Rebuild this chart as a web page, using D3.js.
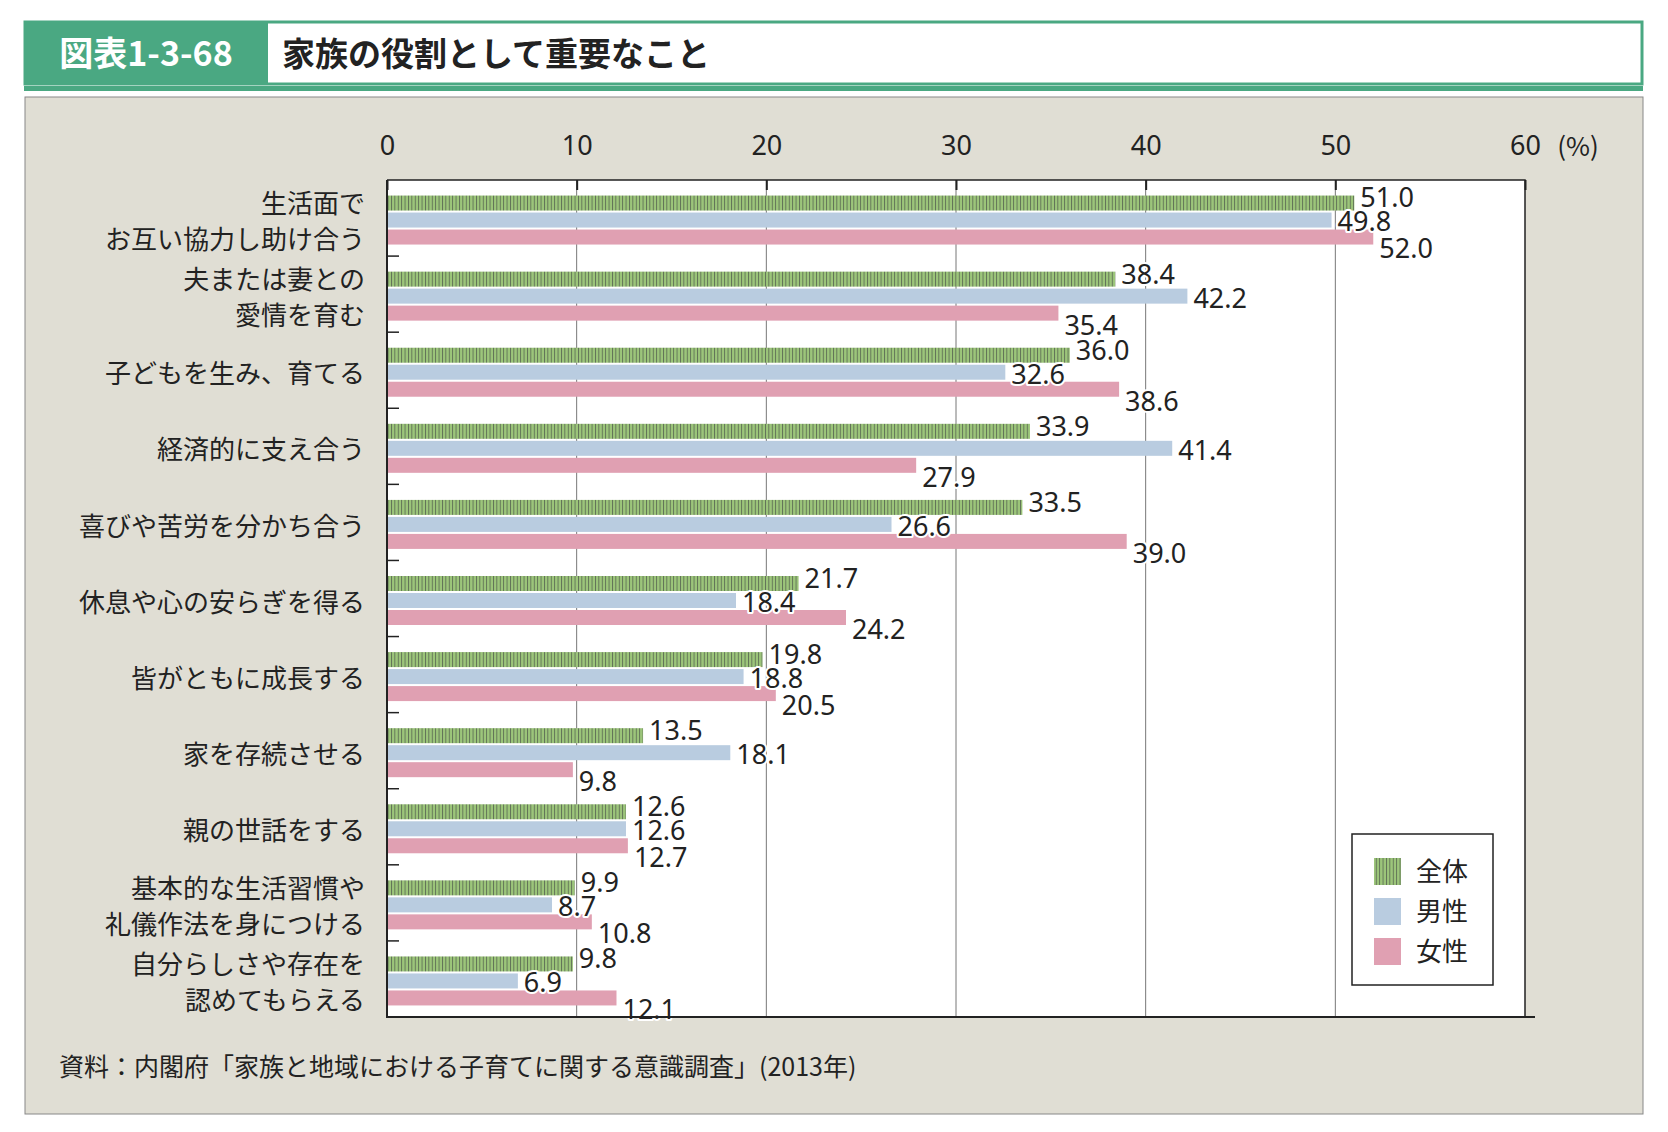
<!DOCTYPE html><html><head><meta charset="utf-8"><script src="https://cdn.jsdelivr.net/npm/d3@7"></script>
<style>body{margin:0;background:#fff}text{font-family:"Noto Sans CJK JP","Noto Sans",sans-serif}</style></head><body><svg id="c" width="1668" height="1132"></svg><script>
const categories=[["生活面で","お互い協力し助け合う"],["夫または妻との","愛情を育む"],["子どもを生み、育てる"],["経済的に支え合う"],["喜びや苦労を分かち合う"],["休息や心の安らぎを得る"],["皆がともに成長する"],["家を存続させる"],["親の世話をする"],["基本的な生活習慣や","礼儀作法を身につける"],["自分らしさや存在を","認めてもらえる"]];
const seriesNames=["全体","男性","女性"];
const total=[51.0,38.4,36.0,33.9,33.5,21.7,19.8,13.5,12.6,9.9,9.8];
const male=[49.8,42.2,32.6,41.4,26.6,18.4,18.8,18.1,12.6,8.7,6.9];
const female=[52.0,35.4,38.6,27.9,39.0,24.2,20.5,9.8,12.7,10.8,12.1];
const ticks=[0,10,20,30,40,50,60];
const colors=["#9cc57a","#b9cce0","#e0a0b2"];
const svg=d3.select("#c");
const defs=svg.append("defs");
const p=defs.append("pattern").attr("id","st").attr("width",3.4).attr("height",10).attr("patternUnits","userSpaceOnUse");
p.append("rect").attr("width",3.4).attr("height",10).attr("fill","#9cc57a");
p.append("rect").attr("width",0.9).attr("height",10).attr("fill","#5e6e55");
svg.append("rect").attr("x",25).attr("y",22).attr("width",1617).attr("height",62).attr("fill","#fff").attr("stroke","#4aa882").attr("stroke-width",3);
svg.append("rect").attr("x",24).attr("y",21).attr("width",244).attr("height",64).attr("fill","#4aa882");
svg.append("text").attr("x",146).attr("y",66).attr("text-anchor","middle").attr("fill","#fff").attr("font-size",34).attr("font-weight",700).text("図表1-3-68");
svg.append("text").attr("x",282).attr("y",66).attr("fill","#222").attr("font-size",33).attr("font-weight",700).text("家族の役割として重要なこと");
svg.append("rect").attr("x",24).attr("y",86).attr("width",1619).attr("height",5).attr("fill","#4aa882");
svg.append("rect").attr("x",25).attr("y",97).attr("width",1618).attr("height",1017).attr("fill","#e0ded4").attr("stroke","#888").attr("stroke-width",1);
const L=387,R=1525,T=180,B=1017;
const x=d3.scaleLinear().domain([0,60]).range([L,R]);
const y=d3.scaleBand().domain(d3.range(categories.length)).range([T,B]);
svg.append("rect").attr("x",L).attr("y",T).attr("width",R-L).attr("height",B-T).attr("fill","#fff");
ticks.slice(1,-1).forEach(t=>svg.append("line").attr("x1",x(t)).attr("x2",x(t)).attr("y1",T).attr("y2",B).attr("stroke","#777").attr("stroke-width",1));
const ax=svg.append("g").attr("transform",`translate(0,${T})`).call(d3.axisTop(x).tickValues(ticks).tickSize(-10).tickFormat(d3.format("d")));
ax.select(".domain").remove();
ax.selectAll("line").attr("stroke","#222").attr("stroke-width",2);
ax.selectAll("text").attr("font-size",27).attr("fill","#222").attr("dy",-22).style("font-family","'Noto Sans',sans-serif");
svg.append("text").attr("x",1578).attr("y",156).attr("font-size",26).attr("fill","#222").attr("text-anchor","middle").text("(%)");
d3.range(1,categories.length).forEach(i=>svg.append("line").attr("x1",L).attr("x2",L+12).attr("y1",y(i)).attr("y2",y(i)).attr("stroke","#222").attr("stroke-width",1.5));
const bh=15,gap=2;
const data=[total,male,female];
const offs=[-5,2,12];
categories.forEach((c,i)=>{
  const base=y(i)+y.bandwidth()/2-(bh*3+gap*2)/2+2;
  data.forEach((arr,s)=>{
    svg.append("rect").attr("x",L).attr("y",base+s*(bh+gap)).attr("width",x(arr[i])-L).attr("height",bh).attr("fill",s==0?"url(#st)":colors[s]);
  });
});
categories.forEach((c,i)=>{
  const base=y(i)+y.bandwidth()/2-(bh*3+gap*2)/2+2;
  data.forEach((arr,s)=>{
    svg.append("text").attr("x",x(arr[i])+6).attr("y",base+s*(bh+gap)+bh/2+offs[s]).attr("dy","0.35em")
      .attr("font-size",27).attr("fill","#222").attr("stroke","#fff").attr("stroke-width",4).attr("stroke-linejoin","round")
      .style("paint-order","stroke").style("font-family","'Noto Sans',sans-serif").text(arr[i].toFixed(1));
  });
  const cy=y(i)+y.bandwidth()/2+4;
  c.forEach((ln,k)=>svg.append("text").attr("x",L-22).attr("y",cy+(k-(c.length-1)/2)*36).attr("dy","0.35em").attr("text-anchor","end").attr("font-size",26).attr("fill","#222").text(ln));
});
svg.append("path").attr("d",`M${L},${T}H${R}V${B}`).attr("fill","none").attr("stroke","#222").attr("stroke-width",1.5);
svg.append("line").attr("x1",L).attr("x2",L).attr("y1",T).attr("y2",B+1).attr("stroke","#222").attr("stroke-width",2);
svg.append("line").attr("x1",L).attr("x2",R+10).attr("y1",B).attr("y2",B).attr("stroke","#222").attr("stroke-width",2);
const lg=svg.append("g").attr("transform","translate(1352,834)");
lg.append("rect").attr("width",141).attr("height",151).attr("fill","#fff").attr("stroke","#222").attr("stroke-width",1.5);
seriesNames.forEach((n,s)=>{
  lg.append("rect").attr("x",22).attr("y",24+s*40).attr("width",27).attr("height",27).attr("fill",s==0?"url(#st)":colors[s]);
  lg.append("text").attr("x",64).attr("y",38+s*40).attr("dy","0.35em").attr("font-size",26).attr("fill","#222").text(n);
});
svg.append("text").attr("x",59).attr("y",1067).attr("dy","0.35em").attr("font-size",25).attr("fill","#222").text("資料：内閣府「家族と地域における子育てに関する意識調査」(2013年)");
</script></body></html>
